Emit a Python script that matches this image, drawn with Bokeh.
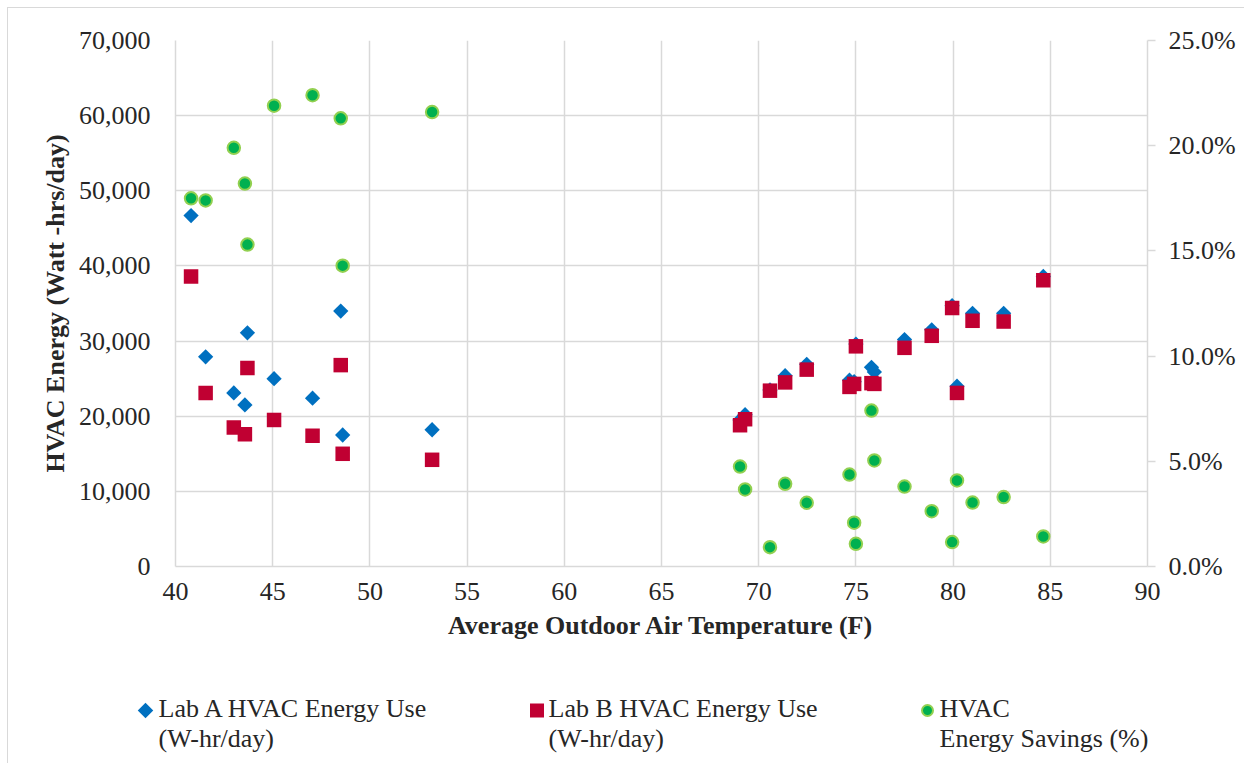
import math
from bokeh.plotting import figure
from bokeh.layouts import column
from bokeh.models import (Range1d, LinearAxis, FixedTicker, NumeralTickFormatter,
                          ColumnDataSource)
from bokeh.core.properties import value
from bokeh.embed import file_html
from bokeh.resources import INLINE

# ---------------- data ----------------
temperature_f = [40.8, 41.55, 43.0, 43.57, 43.7, 45.07, 47.05, 48.5, 48.6, 53.2,
                 69.04, 69.3, 70.58, 71.36, 72.47, 74.67, 74.91, 75.0, 75.8, 75.95,
                 77.5, 78.9, 79.95, 80.2, 81.0, 82.6, 84.64]
lab_a_wh = [46700, 27900, 23100, 21500, 31100, 25000, 22400, 34000, 17500, 18200,
            19500, 20200, 23500, 25400, 26900, 24800, 24600, 29600, 26500, 25900,
            30200, 31500, 34700, 24000, 33700, 33700, 38600]
lab_b_wh = [38600, 23100, 18500, 17600, 26400, 19500, 17400, 26800, 15000, 14200,
            18800, 19600, 23400, 24500, 26200, 23900, 24300, 29300, 24400, 24300,
            29100, 30700, 34400, 23100, 32700, 32600, 38100]
savings_pct = [17.5, 17.4, 19.9, 18.2, 15.3, 21.9, 22.4, 21.3, 14.3, 21.6,
               4.75, 3.66, 0.92, 3.93, 3.03, 4.37, 2.08, 1.08, 7.41, 5.04,
               3.8, 2.63, 1.16, 4.09, 3.04, 3.3, 1.43]

x_ticks = [40, 45, 50, 55, 60, 65, 70, 75, 80, 85, 90]
y_ticks = [0, 10000, 20000, 30000, 40000, 50000, 60000, 70000]
pct_ticks = [0.0, 0.05, 0.10, 0.15, 0.20, 0.25]

series_names = [
    ["Lab A HVAC Energy Use", "(W-hr/day)"],
    ["Lab B HVAC Energy Use", "(W-hr/day)"],
    ["HVAC", "Energy Savings (%)"],
]

# ---------------- styles ----------------
FONT = "Liberation Serif"
TEXT = "#262626"
GRID = "#d9d9d9"
BLUE = "#0070c0"
RED = "#c00032"
GREEN = "#00b050"
GREEN_EDGE = "#92d050"
FS = "26px"

W = 1236          # page x 8 .. 1244
H_MAIN = 652      # page y 8 .. 660
H_LEG = 103       # page y 660 .. 763

p = figure(width=W, height=H_MAIN, output_backend="svg", toolbar_location=None,
           x_range=Range1d(40, 90), y_range=Range1d(0, 70000),
           min_border_left=167, min_border_top=32, min_border_right=97,
           min_border_bottom=H_MAIN - 558)
p.frame_align = False
p.extra_y_ranges = {"pct": Range1d(0, 0.25)}
p.outline_line_color = None
p.background_fill_color = "white"
p.border_fill_color = "white"

src = ColumnDataSource(dict(t=temperature_f, a=lab_a_wh, b=lab_b_wh,
                            s=[v / 100.0 for v in savings_pct]))

# ---------------- axes ----------------
ya = p.yaxis[0]
ya.ticker = FixedTicker(ticks=y_ticks)
ya.formatter = NumeralTickFormatter(format="0,0")
ya.axis_label = "HVAC Energy (Watt -hrs/day)"
ya.axis_label_standoff = 6
ya.major_label_standoff = 25

xa = p.xaxis[0]
xa.ticker = FixedTicker(ticks=x_ticks)
xa.axis_label = "Average Outdoor Air Temperature (F)"
xa.axis_label_standoff = 8
xa.major_label_standoff = 16

ra = LinearAxis(y_range_name="pct", ticker=FixedTicker(ticks=pct_ticks),
                formatter=NumeralTickFormatter(format="0.0%"))
ra.major_label_standoff = 13
ra.major_tick_out = 8
ra.major_tick_line_color = GRID
ra.major_tick_line_width = 1.5
p.add_layout(ra, "right")

for ax in (ya, xa, ra):
    ax.major_label_text_font = FONT
    ax.major_label_text_font_size = FS
    ax.major_label_text_color = TEXT
    ax.axis_label_text_font = FONT
    ax.axis_label_text_font_size = FS
    ax.axis_label_text_font_style = "bold"
    ax.axis_label_text_color = TEXT
    ax.axis_line_color = GRID
    ax.axis_line_width = 1.5
    ax.minor_tick_out = 0
    ax.minor_tick_in = 0
    ax.major_tick_in = 0
for ax in (ya, xa):
    ax.major_tick_out = 0
    ax.major_tick_line_color = None

p.xgrid[0].ticker = FixedTicker(ticks=x_ticks)
p.ygrid[0].ticker = FixedTicker(ticks=y_ticks)
for g in (p.xgrid[0], p.ygrid[0]):
    g.grid_line_color = GRID
    g.grid_line_width = 1.5

# ---------------- glyphs ----------------
p.scatter("t", "a", source=src, marker="square", angle=math.pi / 4, size=10.8,
          fill_color=BLUE, line_color=None)
p.scatter("t", "b", source=src, marker="square", size=14.5,
          fill_color=RED, line_color=None)
p.scatter("t", "s", source=src, y_range_name="pct", marker="circle", size=12.5,
          fill_color=GREEN, line_color=GREEN_EDGE, line_width=2)

# ---------------- legend strip (page-pixel coordinates) ----------------
leg = figure(width=W, height=H_LEG, output_backend="svg", toolbar_location=None,
             x_range=Range1d(8, 8 + W), y_range=Range1d(660 + H_LEG, 660),
             min_border=0, x_axis_location=None, y_axis_location=None)
leg.frame_align = False
leg.outline_line_color = None
leg.xgrid.visible = False
leg.ygrid.visible = False
leg.background_fill_color = "white"
leg.border_fill_color = "white"

mark_x = [145, 536.5, 927]
text_x = [158, 548, 939]
ROW_Y = 710
leg.scatter([mark_x[0]], [ROW_Y], marker="square", angle=math.pi / 4, size=11,
            fill_color=BLUE, line_color=None)
leg.scatter([mark_x[1]], [ROW_Y], marker="square", size=14,
            fill_color=RED, line_color=None)
leg.scatter([mark_x[2]], [ROW_Y], marker="circle", size=11,
            fill_color=GREEN, line_color=GREEN_EDGE, line_width=2)

tx, ty, tt = [], [], []
for x0, lines in zip(text_x, series_names):
    for i, line in enumerate(lines):
        tx.append(x0)
        ty.append(708 + 30 * i)
        tt.append(line)
leg.text(x=tx, y=ty, text=tt, text_font=value(FONT), text_font_size=FS,
         text_color=TEXT, text_baseline="alphabetic", text_align="left")

layout = column(p, leg, spacing=0,
                styles={"margin-left": "7px", "margin-top": "7px",
                        "border-left": "1px solid #d9d9d9",
                        "border-top": "1px solid #d9d9d9"})

open("out.html", "w").write(file_html(layout, INLINE))
